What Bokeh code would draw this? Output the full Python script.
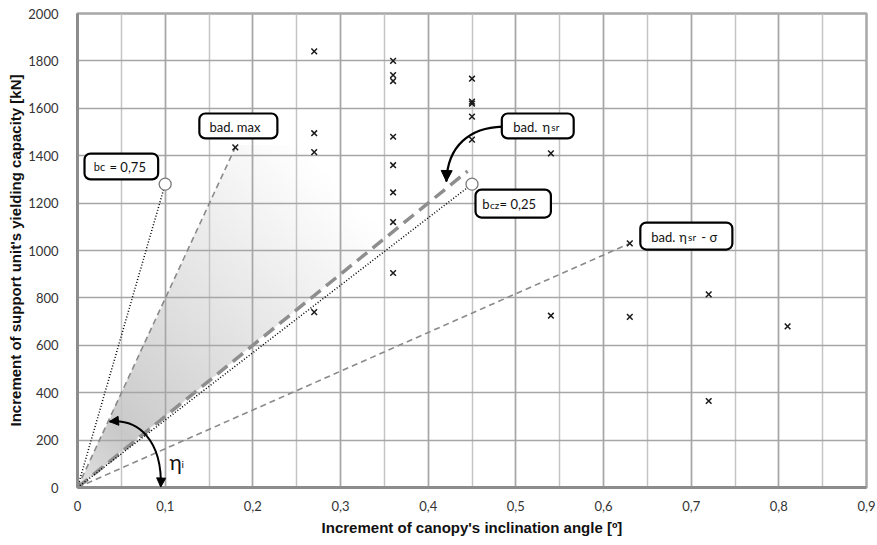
import numpy as np
from bokeh.plotting import figure
from bokeh.models import (BoxAnnotation, Label, Arrow, NormalHead, SingleIntervalTicker,
                          CustomJSTickFormatter, Range1d)
from bokeh.embed import file_html
from bokeh.resources import INLINE

# ---------------- data ----------------
pts_x = [0.18,
         0.27, 0.27, 0.27, 0.27,
         0.36, 0.36, 0.36, 0.36, 0.36, 0.36, 0.36, 0.36,
         0.45, 0.45, 0.45, 0.45, 0.45,
         0.54, 0.54,
         0.63, 0.63,
         0.72, 0.72,
         0.81]
pts_y = [1435,
         1840, 1495, 1415, 740,
         1800, 1740, 1715, 1480, 1360, 1245, 1120, 905,
         1725, 1628, 1620, 1565, 1468,
         1410, 725,
         1030, 720,
         815, 365,
         680]

bc_x, bc_y = 0.10, 1280          # bc = 0,75
bcz_x, bcz_y = 0.45, 1280        # bcz = 0,25
max_x, max_y = 0.18, 1435        # bad. max
sr_x, sr_y = 0.445, 1335         # bad. eta_sr
srs_x, srs_y = 0.63, 1030        # bad. eta_sr - sigma

x_ticks = [0, 0.1, 0.2, 0.3, 0.4, 0.5, 0.6, 0.7, 0.8, 0.9]
y_ticks = [0, 200, 400, 600, 800, 1000, 1200, 1400, 1600, 1800, 2000]

FW, FH = 789, 474
XMAX, YMAX = 0.9, 2000
kx, ky = FW / XMAX, FH / YMAX   # px per data unit

p = figure(frame_width=FW, frame_height=FH,
           x_range=Range1d(0, XMAX), y_range=Range1d(0, YMAX),
           output_backend="svg", toolbar_location=None,
           min_border_left=77, min_border_right=11, min_border_top=13, min_border_bottom=56,
           background_fill_color="white", border_fill_color="white")

# ---------------- gradient shading ----------------
nx, ny = 420, 380
gx = (np.arange(nx) + 0.5) / nx * 0.46
gy = (np.arange(ny) + 0.5) / ny * 1500
XX, YY = np.meshgrid(gx, gy)
s_hi = max_y / max_x
s_lo = sr_y / sr_x
slope = YY / np.maximum(XX, 1e-9)
t = XX * kx + YY * ky
inside = (slope >= s_lo) & (slope <= s_hi) & (t <= 600) & (YY <= 1445)
g = np.where(t < 100, 224 - 24 * (t / 100),
             200 + 55 * np.clip((t - 100) / 470, 0, 1) ** 0.9)
alpha = np.where(inside, (255 - g), 0).astype(np.uint8)
img = np.zeros((ny, nx), dtype=np.uint32)
view = img.view(dtype=np.uint8).reshape((ny, nx, 4))
view[:, :, 0] = 0
view[:, :, 1] = 0
view[:, :, 2] = 0
view[:, :, 3] = alpha
r_img = p.image_rgba(image=[img], x=0, y=0, dw=0.46, dh=1500)
r_img.level = "image"

# ---------------- lines ----------------
p.line([0, srs_x], [0, srs_y], line_color="#8a8a8a", line_width=1.6, line_dash="6 4")
p.line([0, max_x], [0, max_y], line_color="#8a8a8a", line_width=1.6, line_dash="6 4")
p.line([0, sr_x], [0, sr_y], line_color="#8e8e8e", line_width=3.5, line_dash="13 7")
p.line([0, bc_x], [0, bc_y], line_color="black", line_width=1.5, line_dash="1 2")
p.line([0, bcz_x], [0, bcz_y], line_color="black", line_width=1.5, line_dash="1 2")

p.scatter([bc_x, bcz_x], [bc_y, bcz_y], marker="circle", size=12,
          line_color="#7a7a7a", line_width=1.3, fill_color="white")

p.scatter(pts_x, pts_y, marker="x", size=8, line_color="#1a1a1a", line_width=1.5)

# ---------------- curved arrows ----------------
a_x0, a_y0 = 0.4846, 1523
a_cx0, a_cy0 = 0.4481, 1519
a_cx1, a_cy1 = 0.4219, 1443
a_x1, a_y1 = 0.4208, 1291
p.bezier(x0=[a_x0], y0=[a_y0], x1=[a_x1], y1=[a_y1], cx0=[a_cx0], cy0=[a_cy0],
         cx1=[a_cx1], cy1=[a_cy1], line_color="black", line_width=2.2)
p.add_layout(Arrow(end=NormalHead(size=11, fill_color="black", line_color="black"),
                   x_start=a_x1 + 0.0002, y_start=a_y1 + 30, x_end=a_x1, y_end=a_y1,
                   line_color="black", line_width=2))

e_x0, e_y0 = 0.0365, 278
e_cx0, e_cy0 = 0.0696, 291
e_cx1, e_cy1 = 0.0969, 198
e_x1, e_y1 = 0.095, 0
p.bezier(x0=[e_x0], y0=[e_y0], x1=[e_x1], y1=[e_y1], cx0=[e_cx0], cy0=[e_cy0],
         cx1=[e_cx1], cy1=[e_cy1], line_color="black", line_width=2)
p.add_layout(Arrow(end=NormalHead(size=9, fill_color="black", line_color="black"),
                   x_start=e_x1 + 0.0003, y_start=e_y1 + 30, x_end=e_x1, y_end=e_y1 + 2,
                   line_color="black", line_width=2))
p.add_layout(Arrow(end=NormalHead(size=9, fill_color="black", line_color="black"),
                   x_start=e_x0 + 0.006, y_start=e_y0 + 2, x_end=e_x0, y_end=e_y0,
                   line_color="black", line_width=2))

# ---------------- callout boxes ----------------
boxes = [
    (0.008, 0.092, 1300, 1409),   # bc = 0,75
    (0.139, 0.228, 1473, 1578),   # bad. max
    (0.484, 0.566, 1473, 1578),   # bad. eta_sr
    (0.454, 0.540, 1139, 1257),   # bcz = 0,25
    (0.642, 0.747, 1004, 1118),   # bad. eta_sr - sigma
]
for (l, r, b, tp) in boxes:
    p.add_layout(BoxAnnotation(left=l, right=r, bottom=b, top=tp, fill_color="white",
                               fill_alpha=1, line_color="black", line_alpha=1, line_width=2.2,
                               border_radius=6, level="annotation"))

FONT = "Lato"
pieces = [
    ("bc", 0.0185, 1354, "11px"),
    ("= 0,75", 0.0365, 1354, "13px"),
    ("bad. max", 0.1505, 1523, "13px"),
    ("bad.", 0.497, 1523, "13px"),
    ("η", 0.5305, 1523, "13px"),
    ("sr", 0.5405, 1519, "10px"),
    ("b", 0.4617, 1198, "13px"),
    ("cz", 0.4705, 1194, "10px"),
    ("= 0,25", 0.4815, 1198, "13px"),
    ("bad.", 0.6545, 1059, "13px"),
    ("η", 0.6865, 1059, "13px"),
    ("sr", 0.6965, 1055, "10px"),
    ("- σ", 0.7115, 1059, "13px"),
    ("η", 0.105, 108, "21px"),
    ("i", 0.1185, 100, "10px"),
]
for (txt, tx, ty, fs) in pieces:
    p.add_layout(Label(x=tx, y=ty, text=txt, text_font=FONT, text_font_size=fs,
                       text_baseline="middle", text_align="left", text_color="#111111"))

# ---------------- axes & grid ----------------
p.xaxis.ticker = SingleIntervalTicker(interval=0.1, num_minor_ticks=2)
p.yaxis.ticker = SingleIntervalTicker(interval=200, num_minor_ticks=0)
p.xaxis.formatter = CustomJSTickFormatter(code="""
    if (Math.abs(tick) < 1e-9) { return "0"; }
    return tick.toFixed(1).replace(".", ",");
""")
for ax in (p.xaxis[0], p.yaxis[0]):
    ax.axis_line_color = "#8c8c8c"
    ax.axis_line_width = 3
    ax.major_tick_line_color = None
    ax.minor_tick_line_color = None
    ax.major_label_text_font = FONT
    ax.major_label_text_font_size = "13px"
    ax.major_label_text_color = "#333333"
    ax.axis_label_text_font = "Liberation Sans"
    ax.axis_label_text_font_style = "bold"
    ax.axis_label_text_font_size = "15px"
    ax.axis_label_text_color = "#111111"

p.xaxis.axis_label = "Increment of canopy's inclination angle [º]"
p.yaxis.axis_label = "Increment of support unit's yielding capacity [kN]"
p.xaxis.major_label_standoff = 7
p.yaxis.major_label_standoff = 13
p.xaxis.axis_label_standoff = 5
p.yaxis.axis_label_standoff = 1

p.xgrid.grid_line_color = "#a6a6a6"
p.xgrid.grid_line_width = 1.5
p.xgrid.minor_grid_line_color = "#c4c4c4"
p.xgrid.minor_grid_line_width = 1.5
p.ygrid.grid_line_color = "#a6a6a6"
p.ygrid.grid_line_width = 1.5

p.outline_line_color = "#a8a8a8"
p.outline_line_width = 2.5

open("out.html", "w").write(file_html(p, INLINE))
